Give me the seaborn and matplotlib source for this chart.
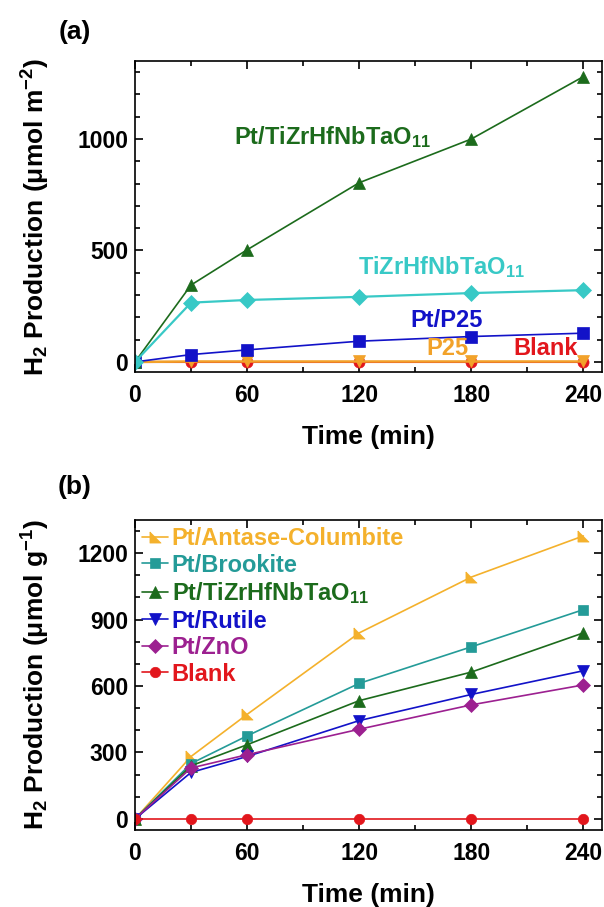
import numpy as np
import pandas as pd
import matplotlib
matplotlib.use("Agg")
import matplotlib.pyplot as plt
from matplotlib.ticker import MultipleLocator
import seaborn as sns

# time points (min)
time = [0, 30, 60, 120, 180, 240]

# panel (a): H2 production per area (umol m^-2)
a_pt_hea = [0, 345, 503, 804, 1000, 1280]
a_hea = [0, 266, 278, 292, 309, 322]
a_pt_p25 = [0, 33, 54, 93, 114, 129]
a_p25 = [0, 2, 2, 2, 2, 2]
a_blank = [0, 0, 0, 0, 0, 0]

# panel (b): H2 production per mass (umol g^-1)
b_antase = [0, 282, 472, 840, 1092, 1278]
b_brookite = [0, 250, 375, 612, 777, 945]
b_pt_hea = [0, 240, 335, 534, 663, 840]
b_rutile = [0, 210, 282, 444, 562, 669]
b_zno = [0, 230, 290, 405, 515, 605]
b_blank = [0, 0, 0, 0, 0, 0]

sns.set_style("ticks")
plt.rcParams['font.family'] = ['Liberation Sans', 'DejaVu Sans']
plt.rcParams['font.weight'] = 'bold'
plt.rcParams['axes.labelweight'] = 'bold'
plt.rcParams['mathtext.fontset'] = 'custom'
plt.rcParams['mathtext.rm'] = 'Liberation Sans:bold'
plt.rcParams['mathtext.bf'] = 'Liberation Sans:bold'
plt.rcParams['mathtext.it'] = 'Liberation Sans:bold'
for key in ['text.color', 'axes.labelcolor', 'xtick.color', 'ytick.color', 'axes.edgecolor']:
    plt.rcParams[key] = 'black'

green = '#1c6b1c'
turq = '#38c9c6'
blue = '#1212c8'
orange = '#f2a22a'
red = '#e2161c'
gold = '#f4b12c'
teal = '#249b98'
purple = '#9c2090'

# right-angle triangle marker used by Origin for the first series in (b)
rtri = [(-1, 1), (-1, -1), (1, -1), (-1, 1)]

fig = plt.figure(figsize=(6.04, 9.07), dpi=100)
ax1 = fig.add_axes([0.2235, 0.5899, 0.7732, 0.3428])
ax2 = fig.add_axes([0.2235, 0.0849, 0.7732, 0.3418])


def line(ax, y, color, marker, ms, label=None, lw=1.2):
    sns.lineplot(x=time, y=y, ax=ax, color=color, marker=marker, markersize=ms,
                 markeredgecolor=color, markerfacecolor=color, markeredgewidth=0.5,
                 linewidth=lw, label=label, legend=False)


# ---- panel (a)
line(ax1, a_blank, red, 'o', 8, lw=1.5)
line(ax1, a_p25, orange, 'v', 9, lw=1.8)
line(ax1, a_pt_p25, blue, 's', 8)
line(ax1, a_pt_hea, green, '^', 9)
line(ax1, a_hea, turq, 'D', 8, lw=1.6)

fs_ann = 17
ax1.text(106, 1010, r'Pt/TiZrHfNbTaO$_{\mathbf{11}}$', color=green, fontsize=fs_ann,
         fontweight='bold', ha='center', va='center')
ax1.text(164, 424, r'TiZrHfNbTaO$_{\mathbf{11}}$', color=turq, fontsize=fs_ann,
         fontweight='bold', ha='center', va='center')
ax1.text(167, 184, 'Pt/P25', color=blue, fontsize=fs_ann, fontweight='bold',
         ha='center', va='center')
ax1.text(167, 60, 'P25', color=orange, fontsize=fs_ann, fontweight='bold',
         ha='center', va='center')
ax1.text(220, 60, 'Blank', color=red, fontsize=fs_ann, fontweight='bold',
         ha='center', va='center')

ax1.set_ylim(-45, 1350)
ax1.yaxis.set_major_locator(MultipleLocator(500))
ax1.set_ylabel(r'H$_{\mathbf{2}}$ Production (μmol m$^{\mathbf{-2}}$)')

# ---- panel (b)
series_b = [
    ('Pt/Antase-Columbite', b_antase, gold, rtri, 8),
    ('Pt/Brookite', b_brookite, teal, 's', 7),
    (r'Pt/TiZrHfNbTaO$_{\mathbf{11}}$', b_pt_hea, green, '^', 8),
    ('Pt/Rutile', b_rutile, blue, 'v', 8),
    ('Pt/ZnO', b_zno, purple, 'D', 7),
    ('Blank', b_blank, red, 'o', 7.5),
]
for name, y, c, m, ms in series_b:
    line(ax2, y, c, m, ms, label=name)

ax2.set_ylim(-50, 1350)
ax2.yaxis.set_major_locator(MultipleLocator(300))
ax2.set_ylabel(r'H$_{\mathbf{2}}$ Production (μmol g$^{\mathbf{-1}}$)')

leg = ax2.legend(loc='upper left', frameon=False, fontsize=17, handlelength=1.1,
                 handletextpad=0.15, labelspacing=0.15, borderaxespad=0.1,
                 borderpad=0.2)
for txt, (name, y, c, m, ms) in zip(leg.get_texts(), series_b):
    txt.set_color(c)
    txt.set_fontweight('bold')

for ax in (ax1, ax2):
    ax.set_xlim(0, 250)
    ax.xaxis.set_major_locator(MultipleLocator(60))
    ax.xaxis.set_minor_locator(MultipleLocator(30))
    ax.yaxis.set_minor_locator(MultipleLocator(100))
    ax.tick_params(which='both', direction='in', top=True, right=True, width=1.2)
    ax.tick_params(which='major', length=6, labelsize=16.5)
    ax.tick_params(axis='x', which='major', pad=9)
    ax.tick_params(axis='y', which='major', pad=5)
    ax.tick_params(which='minor', length=3.5)
    for lab in ax.get_xticklabels() + ax.get_yticklabels():
        lab.set_fontweight('bold')
    for s in ax.spines.values():
        s.set_linewidth(1.2)
    ax.set_xlabel('Time (min)', fontsize=19, fontweight='bold')
    ax.yaxis.label.set_fontsize(19)
    ax.xaxis.set_label_coords(0.5, -0.17)
    ax.yaxis.set_label_coords(-0.178, 0.5)

fig.text(75 / 604, 1 - 32 / 907, '(a)', fontsize=19, fontweight='bold',
         ha='center', va='center')
fig.text(75 / 604, 1 - 487 / 907, '(b)', fontsize=19, fontweight='bold',
         ha='center', va='center')

fig.savefig('out.png', dpi=100)
